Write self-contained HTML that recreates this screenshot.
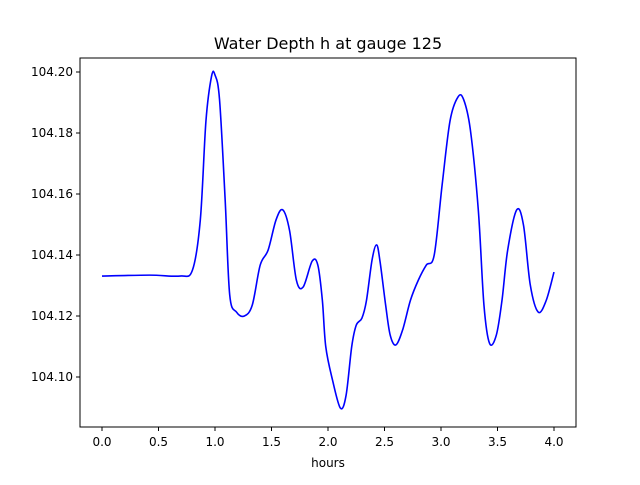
<!DOCTYPE html>
<html><head><meta charset="utf-8"><style>
body{margin:0;background:#fff;}
svg text{font-family:"DejaVu Sans","Liberation Sans",sans-serif;fill:#000;}
</style></head><body>
<svg id="chart" width="640" height="480" xmlns="http://www.w3.org/2000/svg">
<rect width="640" height="480" fill="#fff"/>
<text x="328" y="49" font-size="16" text-anchor="middle">Water Depth h at gauge 125</text>
<g id="plot"></g>
<rect x="80" y="58" width="496" height="369" fill="none" stroke="#000" stroke-width="1"/>
<text x="328" y="467" font-size="12" text-anchor="middle">hours</text>
</svg>
<script>
const times=[0,0.42,0.69,0.8,0.87,0.92,0.97,1.0,1.04,1.09,1.13,1.19,1.26,1.33,1.4,1.47,1.54,1.6,1.66,1.72,1.78,1.86,1.91,1.95,1.98,2.04,2.11,2.16,2.21,2.25,2.3,2.34,2.39,2.43,2.46,2.51,2.55,2.6,2.66,2.73,2.8,2.87,2.94,3.01,3.08,3.15,3.2,3.26,3.33,3.38,3.43,3.49,3.54,3.59,3.67,3.73,3.79,3.86,3.93,4.0];
const depth=[104.1331,104.1334,104.1331,104.135,104.1515,104.184,104.1987,104.199,104.191,104.158,104.127,104.1213,104.12,104.1236,104.1367,104.1416,104.1515,104.1548,104.148,104.1318,104.1295,104.138,104.1367,104.1252,104.110,104.099,104.0898,104.094,104.110,104.117,104.1193,104.125,104.1384,104.1433,104.138,104.1236,104.1138,104.1105,104.1154,104.1252,104.1318,104.1367,104.14,104.163,104.184,104.1918,104.191,104.181,104.1548,104.1236,104.111,104.1138,104.1252,104.1416,104.1548,104.1498,104.1302,104.1213,104.125,104.1344];
const xTicks=[0,0.5,1,1.5,2,2.5,3,3.5,4];
const xTickLabels=["0.0","0.5","1.0","1.5","2.0","2.5","3.0","3.5","4.0"];
const yTicks=[104.10,104.12,104.14,104.16,104.18,104.20];
const yTickLabels=["104.10","104.12","104.14","104.16","104.18","104.20"];
const xs=t=>102+t*113;
const ys=v=>72+(104.20-v)*3050;
const ns="http://www.w3.org/2000/svg";
const g=document.getElementById('plot');
function mk(tag,attrs){const e=document.createElementNS(ns,tag);for(const k in attrs)e.setAttribute(k,attrs[k]);g.appendChild(e);return e;}
xTicks.forEach((t,i)=>{
  const l=mk('line',{x1:xs(t),x2:xs(t),y1:427,y2:431,stroke:'#000'});
  
  
  const tx=mk('text',{x:xs(t),y:446,'font-size':12,'text-anchor':'middle'});
  tx.textContent=xTickLabels[i];
  
  
});
yTicks.forEach((v,i)=>{
  const l=mk('line',{x1:76,x2:80,y1:ys(v),y2:ys(v),stroke:'#000'});
  
  
  const tx=mk('text',{x:73,y:ys(v)+4,'font-size':12,'text-anchor':'end'});
  tx.textContent=yTickLabels[i];
  
  
});
const pts=times.map((t,i)=>[xs(t),ys(depth[i])]);
let d='M'+pts[0][0]+','+pts[0][1];
for(let i=0;i<pts.length-1;i++){
  const p0=pts[Math.max(0,i-1)],p1=pts[i],p2=pts[i+1],p3=pts[Math.min(pts.length-1,i+2)];
  const c1x=p1[0]+(p2[0]-p0[0])/6,c1y=p1[1]+(p2[1]-p0[1])/6;
  const c2x=p2[0]-(p3[0]-p1[0])/6,c2y=p2[1]-(p3[1]-p1[1])/6;
  d+=` C${c1x},${c1y} ${c2x},${c2y} ${p2[0]},${p2[1]}`;
}
const line=mk('path',{d:d,fill:'none',stroke:'#0000ff','stroke-width':1.6});


</script>
</body></html>
